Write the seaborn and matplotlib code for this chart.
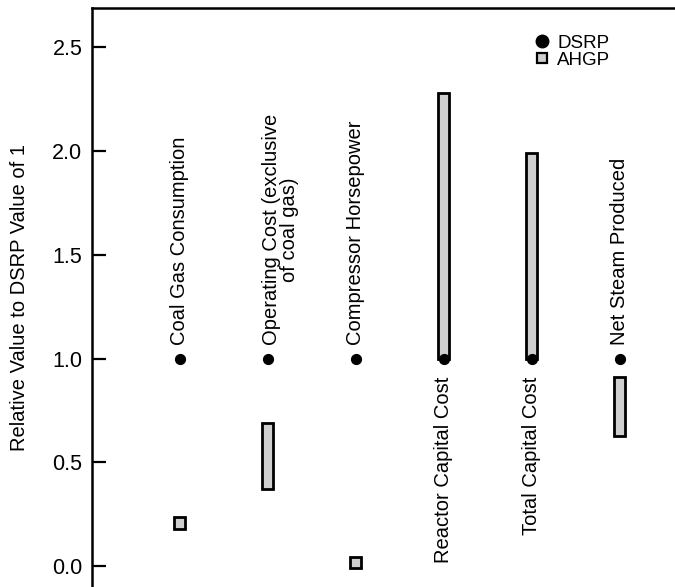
import pandas as pd
import matplotlib
matplotlib.use("Agg")
import matplotlib.pyplot as plt
from matplotlib.lines import Line2D
import seaborn as sns

# values
categories = ["Coal Gas Consumption", "Operating Cost (exclusive\nof coal gas)",
              "Compressor Horsepower", "Reactor Capital Cost",
              "Total Capital Cost", "Net Steam Produced"]
dsrp = [1.0, 1.0, 1.0, 1.0, 1.0, 1.0]
ahgp_low = [0.18, 0.37, -0.01, 1.0, 1.0, 0.63]
ahgp_high = [0.235, 0.69, 0.045, 2.28, 1.99, 0.91]
label_below = [False, False, False, True, True, False]
yticks = [0.0, 0.5, 1.0, 1.5, 2.0, 2.5]

df = pd.DataFrame({"x": range(len(categories)), "category": categories,
                   "dsrp": dsrp, "low": ahgp_low, "high": ahgp_high})

sns.set_theme(style="white")
plt.rcParams["font.family"] = ["Liberation Sans", "DejaVu Sans"]
for key in ["text.color", "axes.labelcolor", "xtick.color", "ytick.color"]:
    plt.rcParams[key] = "black"

fig = plt.figure(figsize=(6.75, 5.87), dpi=100)
ax = fig.add_axes([92 / 675, 0.0, 1 - 92 / 675, 1 - 8 / 587])

bar_color = "#cfcfcf"
ax.bar(df["x"], df["high"] - df["low"], bottom=df["low"], width=0.125,
       color=bar_color, edgecolor="black", linewidth=2.0, zorder=2)
sns.scatterplot(data=df, x="x", y="dsrp", ax=ax, color="black", s=65,
                edgecolor="black", linewidth=0, zorder=3, legend=False)

for i, row in df.iterrows():
    if label_below[i]:
        ax.text(row["x"], row["dsrp"] - 0.085, row["category"], rotation=90,
                ha="center", va="top", fontsize=14.5)
    else:
        xpos = row["x"] + (0.14 if "\n" in row["category"] else 0)
        ax.text(xpos, row["dsrp"] + 0.065, row["category"], rotation=90,
                ha="center", va="bottom", fontsize=14.5, linespacing=0.95)

ax.set_xlim(-1.0, 5.63)
ax.set_ylim(-0.10, 2.69)
ax.set_yticks(yticks)
ax.set_yticklabels([f"{v:.1f}" for v in yticks], fontsize=15.5)
ax.set_xticks([])
ax.set_xlabel("")
ax.set_ylabel("Relative Value to DSRP Value of 1", fontsize=14.5)
ax.yaxis.set_label_coords(-0.108, 0.5)
ax.tick_params(axis="y", direction="in", length=10, width=1.6, left=True, pad=7)

for side in ["right", "bottom"]:
    ax.spines[side].set_visible(False)
for side in ["left", "top"]:
    ax.spines[side].set_linewidth(1.8)
    ax.spines[side].set_color("black")

handles = [Line2D([], [], marker="o", color="black", linestyle="", markersize=9),
           Line2D([], [], marker="s", markerfacecolor=bar_color, markeredgecolor="black",
                  markeredgewidth=1.6, linestyle="", markersize=7.5)]
ax.legend(handles, ["DSRP", "AHGP"], loc="upper left", bbox_to_anchor=(0.74, 0.97),
          frameon=False, fontsize=13.5, handletextpad=0.3, labelspacing=0.0,
          borderpad=0, handlelength=1.0)

fig.savefig("out.png", dpi=100)
